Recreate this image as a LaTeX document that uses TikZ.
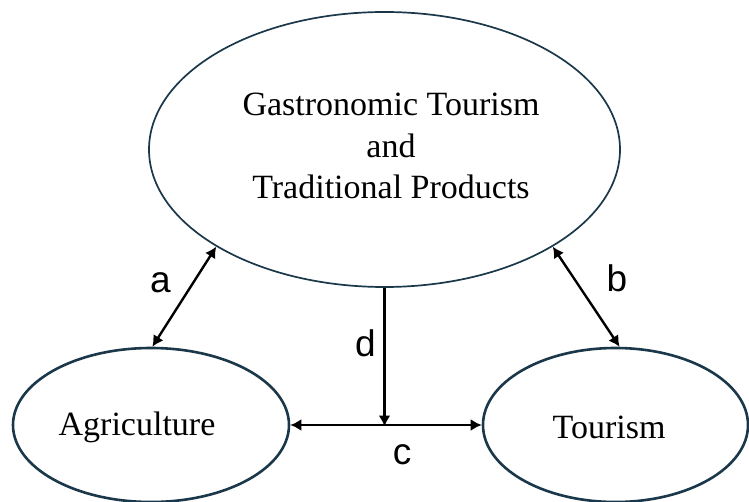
\documentclass[tikz,border=0pt]{standalone}
\usepackage{fontspec}
\setmainfont{Liberation Serif}
\newfontfamily\lblfont{Liberation Sans}
\usetikzlibrary{shapes.geometric,arrows.meta}
\definecolor{edgeblue}{RGB}{26,56,74}
\begin{document}
\begin{tikzpicture}[x=1pt,y=-1pt,
  bubble/.style={ellipse,draw=edgeblue,inner sep=0pt,fill=none},
  conn/.style={line width=2.4pt,black,{Latex[length=11pt,width=12pt]}-{Latex[length=11pt,width=12pt]}},
  oneway/.style={line width=2.4pt,black,-{Latex[length=11pt,width=12pt]}},
  lbl/.style={inner sep=0pt,anchor=base,font=\lblfont\fontsize{37}{40}\selectfont},
  serif/.style={inner sep=0pt,font=\fontsize{34}{41.5}\selectfont,align=center}]
\useasboundingbox[fill=white] (0,0) rectangle (749,502);
\node[bubble,line width=1.7pt,minimum width=471pt,minimum height=275pt] (big) at (384.5,149.5) {};
\node[serif] (bigtext) at (391,146) {Gastronomic Tourism\\and\\Traditional Products};
\node[bubble,line width=2.6pt,minimum width=276pt,minimum height=154pt] (agri) at (151,425) {};
\node[serif] (agritext) at (137,427) {Agriculture};
\node[bubble,line width=2.6pt,minimum width=265pt,minimum height=154pt] (tour) at (615.5,425) {};
\node[serif] (tourtext) at (609,427) {Tourism};
\draw[conn] (big.210.6) -- (agri.89);
\draw[conn] (big.-30.3) -- (tour.87);
\draw[conn] (agri.east) -- (tour.west);
\coordinate (djoin) at ([yshift=-1.5pt]big.south |- agri.east);
\draw[oneway] (big.south) -- (djoin);
\node[lbl] (la) at (160.5,293) {a};
\node[lbl] (lb) at (617,292) {b};
\node[lbl] (ld) at (365.5,356) {d};
\node[lbl] (lc) at (402,464) {c};
\end{tikzpicture}
\end{document}
